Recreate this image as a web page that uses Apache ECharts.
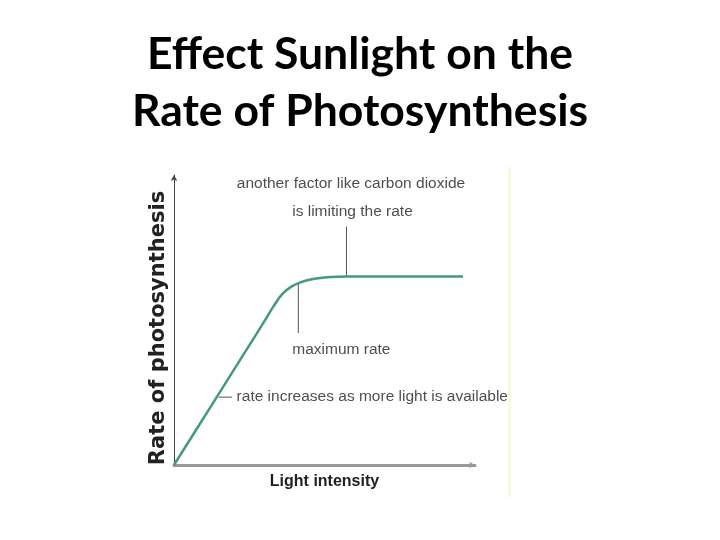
<!DOCTYPE html>
<html><head><meta charset="utf-8">
<script src="https://cdn.jsdelivr.net/npm/echarts@6/dist/echarts.min.js"></script>
<style>html,body{margin:0;padding:0;background:#fff}#c{width:720px;height:540px}</style>
</head><body><div id="c"></div>
<script>
// Light intensity (x, arbitrary units 0-100) vs rate of photosynthesis (y, 0-100)
const lightIntensity = [0, 12, 24, 30, 33, 36, 39, 42, 45, 48, 52, 57, 96];
const rate =           [0, 19.8, 39.6, 49.5, 54.6, 59.0, 61.5, 63.0, 63.9, 64.4, 64.8, 65, 65];

// annotation leader lines
const leaderCO2 = [[57.3, 82.2], [57.3, 65]];
const leaderMax = [[41.3, 62.7], [41.3, 45.5]];
const leaderInc = [[14.8, 23.4], [19.3, 23.4]];

const annotationTexts = ['another factor like carbon dioxide', 'is limiting the rate', 'maximum rate', 'rate increases as more light is available'];
const annotationX = [58.8, 59.3, 55.6, 20.8];
const annotationY = [96.9, 87.3, 39.7, 23.4];
const annotationAlign = ['center', 'center', 'center', 'left'];

const titleText = 'Effect Sunlight on the\nRate of Photosynthesis';
const xName = 'Light intensity';
const yName = 'Rate of photosynthesis';

const chart = echarts.init(document.getElementById('c'), null, {renderer: 'canvas'});
const narrow = "'Liberation Sans Narrow', 'Liberation Sans', Arial, sans-serif";
const leaderStyle = {color: '#555', width: 1};
function leaderSeries(pts) {
  return {type: 'line', data: pts, symbol: 'none', lineStyle: leaderStyle, silent: true, z: 3, animation: false};
}
chart.setOption({
  animation: false,
  backgroundColor: '#fff',
  title: {
    text: titleText, left: 'center', top: 21,
    textStyle: {fontFamily: 'Lato', fontWeight: 'bold', fontSize: 44.5, lineHeight: 57, color: '#000'}
  },
  grid: {left: 174, right: 245, top: 175, bottom: 75},
  xAxis: {
    type: 'value', min: 0, max: 100,
    name: xName, nameLocation: 'middle', nameGap: 9,
    nameTextStyle: {fontFamily: narrow, fontWeight: 'bold', fontSize: 16, color: '#222', verticalAlign: 'top'},
    axisLine: {show: true, lineStyle: {color: '#999', width: 3}, symbol: ['none', 'arrow'], symbolSize: [5, 6]},
    axisTick: {show: false}, axisLabel: {show: false}, splitLine: {show: false}
  },
  yAxis: {
    type: 'value', min: 0, max: 100,
    axisLine: {show: true, lineStyle: {color: '#444', width: 1}, symbol: ['none', 'arrow'], symbolSize: [5, 6]},
    axisTick: {show: false}, axisLabel: {show: false}, splitLine: {show: false}
  },
  graphic: [
    {type: 'text', x: 159, y: 328, rotation: Math.PI / 2,
     style: {text: yName, fontFamily: 'DejaVu Sans', fontWeight: 'bold', fontSize: 21, fill: '#222', align: 'center', verticalAlign: 'middle'}},
    {type: 'line', shape: {x1: 509.5, y1: 167, x2: 509.5, y2: 497}, style: {stroke: '#f8f8cc', lineWidth: 2}}
  ],
  series: [
    {type: 'line', data: lightIntensity.map((x, i) => [x, rate[i]]), smooth: 0.4,
     symbol: 'none', lineStyle: {color: '#45997c', width: 2.5}, z: 4},
    leaderSeries(leaderCO2), leaderSeries(leaderMax), leaderSeries(leaderInc),
    {type: 'scatter', symbolSize: 0, silent: true, z: 5,
     data: annotationTexts.map((t, i) => ({value: [annotationX[i], annotationY[i]], name: t,
       label: {show: true, position: 'inside', formatter: t, align: annotationAlign[i], verticalAlign: 'middle',
               fontFamily: narrow, fontSize: 15.5, color: '#222'}}))}
  ]
});
</script></body></html>
